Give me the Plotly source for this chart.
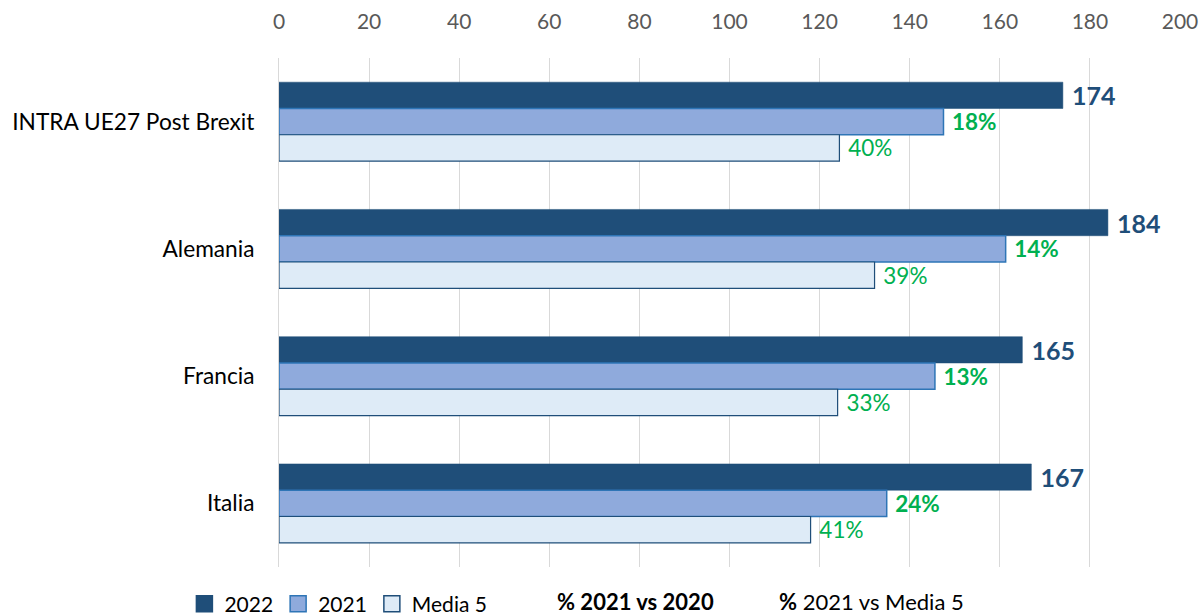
import plotly.graph_objects as go

categories = ["INTRA UE27 Post Brexit", "Alemania", "Francia", "Italia"]
v2022 = [174, 184, 165, 167]
v2021 = [147.5, 161.3, 145.6, 134.9]
vmedia5 = [124.4, 132.2, 124.0, 118.0]
pct_2021_vs_2020 = ["18%", "14%", "13%", "24%"]
pct_2021_vs_media5 = ["40%", "39%", "33%", "41%"]
x_ticks = [0, 20, 40, 60, 80, 100, 120, 140, 160, 180, 200]
series_names = ["2022", "2021", "Media 5"]

FONT = "Lato"
NAVY = "#1F4E79"
GREEN = "#00B050"
fills = ["#1F4E79", "#8FAADC", "#DEEBF7"]
borders = ["#1F4E79", "#2E75B6", "#1F4E79"]
border_w = [0.5, 1.5, 1.2]

values = [v2022, v2021, vmedia5]
texts = [[str(v) for v in v2022], pct_2021_vs_2020, pct_2021_vs_media5]
text_fonts = [
    dict(family=FONT, size=25, color=NAVY, weight="bold"),
    dict(family=FONT, size=22.5, color=GREEN, weight="bold"),
    dict(family=FONT, size=22.5, color=GREEN),
]

fig = go.Figure()
for i in range(3):
    fig.add_trace(go.Bar(
        y=categories, x=values[i], name=series_names[i], orientation="h",
        marker=dict(color=fills[i], line=dict(color=borders[i], width=border_w[i])),
        text=texts[i], texttemplate="\u00a0%{text}",
        textposition="outside", textfont=text_fonts[i],
        constraintext="none", hoverinfo="x+y",
        cliponaxis=False, showlegend=False, legendgroup=series_names[i],
    ))
# legend proxies (larger square markers)
for i in range(3):
    fig.add_trace(go.Scatter(
        x=[None], y=[None], mode="markers", name=series_names[i],
        legendgroup=series_names[i], showlegend=True,
        marker=dict(symbol="square", size=17, color=fills[i],
                    line=dict(color=borders[i], width=1.5)),
    ))

fig.update_layout(
    width=1203, height=615,
    margin=dict(l=279, r=23, t=58, b=48, autoexpand=False),
    paper_bgcolor="white", plot_bgcolor="white",
    barmode="group", bargap=0.38, bargroupgap=0,
    font=dict(family=FONT, size=21, color="#000000"),
    showlegend=True,
    legend=dict(
        orientation="h", x=-0.105, xanchor="left", y=-0.073, yanchor="middle",
        font=dict(family=FONT, size=21, color="#000000"),
        itemwidth=30, tracegroupgap=0, traceorder="normal",
        bgcolor="rgba(0,0,0,0)",
    ),
    xaxis=dict(
        side="top", range=[0, 200], tickvals=x_ticks,
        showgrid=True, gridcolor="#D9D9D9", gridwidth=1,
        zeroline=False, showline=False, automargin=False,
        tickfont=dict(family=FONT, size=21, color="#595959"),
        ticklabelstandoff=24, ticklabeloverflow="allow",
    ),
    yaxis=dict(
        autorange="reversed", showgrid=False, automargin=False,
        showline=True, linecolor="#D9D9D9", linewidth=1,
        tickfont=dict(family=FONT, size=22.7, color="#000000"),
        ticklabelstandoff=19,
    ),
)

fig.add_annotation(
    xref="paper", yref="paper", x=(555 - 279) / 900, y=-0.067,
    xanchor="left", yanchor="middle", showarrow=False,
    text="<b>% 2021 vs 2020</b>",
    font=dict(family=FONT, size=22, color="#000000"),
)
fig.add_annotation(
    xref="paper", yref="paper", x=(776 - 279) / 900, y=-0.067,
    xanchor="left", yanchor="middle", showarrow=False,
    text="<b>%</b> 2021 vs Media 5",
    font=dict(family=FONT, size=22, color="#000000"),
)

# remove the default 8px page margin so the 1203x615 figure fills the window exactly
fig.write_html(
    "out.html",
    config={"displayModeBar": False},
    post_script=(
        "document.documentElement.style.overflow='hidden';"
        "document.body.style.margin='0';document.body.style.overflow='hidden';"
    ),
)
